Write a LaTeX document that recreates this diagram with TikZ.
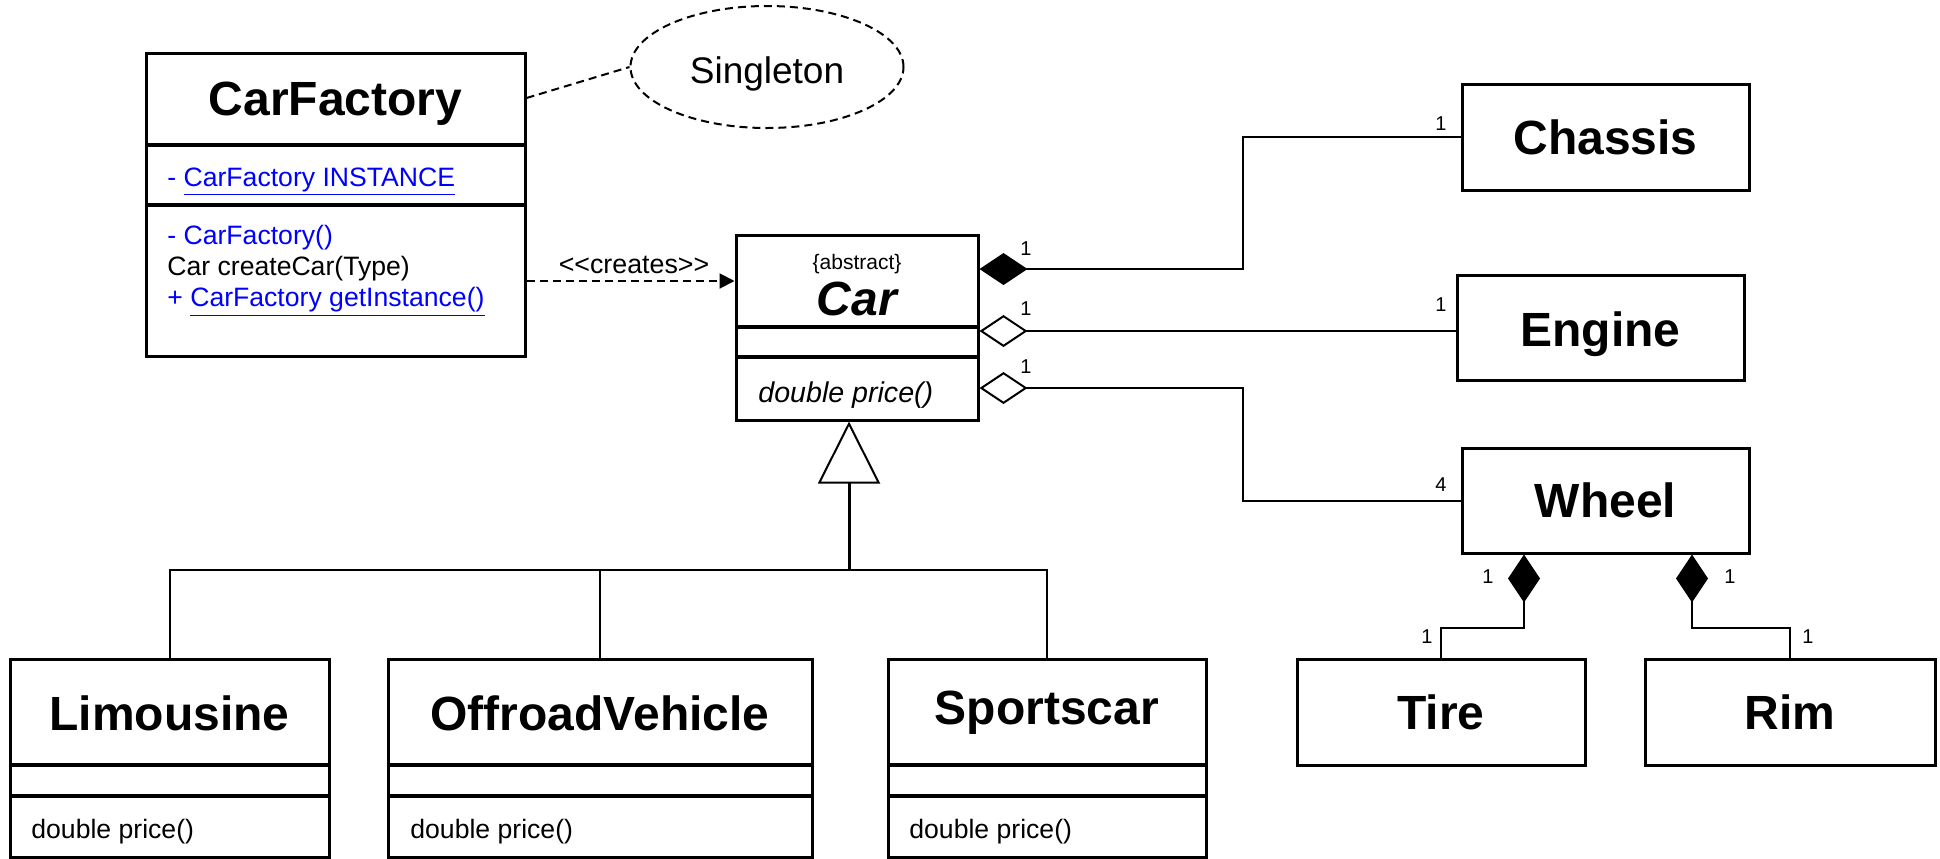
\documentclass[tikz,border=0pt]{standalone}
\usepackage{fontspec}
\setmainfont{Liberation Sans}
\usetikzlibrary{arrows.meta,fit,shapes.geometric}
\definecolor{ublue}{RGB}{0,0,255}
\tikzset{
  cls/.style={draw, line width=1.5pt, inner sep=0pt},
  sepline/.style={line width=2pt},
  ttl/.style={font=\fontsize{24pt}{28pt}\selectfont\bfseries, inner sep=0pt},
  mem/.style={font=\fontsize{13.3pt}{15pt}\selectfont, inner sep=0pt, anchor=west},
  mult/.style={font=\fontsize{10pt}{12pt}\selectfont, inner sep=0pt},
  conn/.style={line width=1pt},
  dsh/.style={conn, dash pattern=on 4pt off 2.5pt},
  comp/.style={conn, {Diamond[length=24pt,width=16pt]}-},
  aggr/.style={conn, {Diamond[open,length=24pt,width=16pt]}-},
}
\begin{document}
\begin{tikzpicture}[x=0.5pt,y=-0.5pt]
\useasboundingbox (0,0) rectangle (1940,858);
% helper coordinates
\coordinate (y98) at (0,98);
\coordinate (y269) at (0,269);
\coordinate (y281) at (0,281);
\coordinate (y331) at (0,331);
\coordinate (y388) at (0,388);
\coordinate (y628) at (0,628);
\coordinate (x1243) at (1243,0);
\coordinate (wx1) at (1524,0);
\coordinate (wx2) at (1692,0);
\coordinate (bus) at (849,570);

% CarFactory
\node[cls, fit={(146,53) (525,356)}] (cf) {};
\draw[sepline] (146,145) -- (525,145);
\draw[sepline] (146,205) -- (525,205);
\node[ttl] (cft) at (335.5,104) {CarFactory};
\node[mem, text=ublue] (cfa) at (167,182) {- \underline{CarFactory INSTANCE}};
\node[mem, text=ublue] (cfm1) at (167,238) {- CarFactory()};
\node[mem] (cfm2) at (167,269) {Car createCar(Type)};
\node[mem, text=ublue] (cfm3) at (167,302) {+ \underline{CarFactory getInstance()}};

% Singleton note
\node[draw, dash pattern=on 4pt off 2.5pt, line width=1pt, ellipse, minimum width=136.5pt, minimum height=61pt, inner sep=0pt] (sg) at (767,67) {};
\node[font=\fontsize{18.5pt}{22pt}\selectfont, inner sep=0pt] (sgt) at (767,74) {Singleton};
\draw[dsh] (cf.east |- y98) -- (sg.west);

% Car
\node[cls, fit={(736,235) (978,420)}] (car) {};
\draw[sepline] (736,327) -- (978,327);
\draw[sepline] (736,357) -- (978,357);
\node[font=\fontsize{10.5pt}{12pt}\selectfont, inner sep=0pt] (abs) at (857,264) {\{abstract\}};
\node[ttl, font=\fontsize{24pt}{28pt}\selectfont\bfseries\itshape] (cart) at (857,299) {Car};
\node[mem, font=\fontsize{14.3pt}{16pt}\selectfont\itshape] (carm) at (758,395) {double price()};

% creates
\draw[dsh, -{Triangle[length=7.5pt,width=7.5pt]}] (cf.east |- y281) -- (car.west |- y281);
\node[font=\fontsize{13.4pt}{15pt}\selectfont, inner sep=0pt] (crl) at (634,265) {<\kern0pt<creates>\kern0pt>};

% Subclasses
\node[cls, fit={(10,659) (329,857)}] (lim) {};
\draw[sepline] (10,765) -- (329,765);
\draw[sepline] (10,796) -- (329,796);
\node[ttl] (limt) at (169.5,713) {Limousine};
\node[mem] (limm) at (31,832) {double price()};

\node[cls, fit={(388,659) (812,857)}] (off) {};
\draw[sepline] (388,765) -- (812,765);
\draw[sepline] (388,796) -- (812,796);
\node[ttl] (offt) at (600,713) {OffroadVehicle};
\node[mem] (offm) at (410,832) {double price()};

\node[cls, fit={(888,659) (1206,857)}] (sp) {};
\draw[sepline] (888,765) -- (1206,765);
\draw[sepline] (888,796) -- (1206,796);
\node[ttl] (spt) at (1047,713) {Sportscar};
\node[mem] (spm) at (909,832) {double price()};

% Generalization
\draw[line width=1.5pt, -{Triangle[open, length=31pt, width=31pt, line width=1pt]}] (bus) -- (bus |- car.south);
\draw[conn] (lim.north) -- (lim.north |- bus) -- (sp.north |- bus) -- (sp.north);
\draw[conn] (off.north) -- (off.north |- bus);

% Right side classes
\node[cls, fit={(1462,84) (1749,190)}] (ch) {};
\node[ttl] (cht) at (ch.center) {Chassis};
\node[cls, fit={(1457,275) (1744,380)}] (eng) {};
\node[ttl, yshift=-3.5pt] (engt) at (eng.center) {Engine};
\node[cls, fit={(1462,448) (1749,553)}] (wh) {};
\node[ttl] (wht) at (wh.center) {Wheel};
\node[cls, fit={(1297,659) (1585,765)}] (tire) {};
\node[ttl] (tiret) at (tire.center) {Tire};
\node[cls, fit={(1645,659) (1935,765)}] (rim) {};
\node[ttl] (rimt) at (rim.center) {Rim};

% Associations
\draw[comp] (car.east |- y269) -| (x1243 |- ch.west) -- (ch.west);
\draw[aggr] (car.east |- y331) -- (eng.west |- y331);
\draw[aggr] (car.east |- y388) -| (x1243 |- wh.west) -- (wh.west);
\draw[comp] (wx1 |- wh.south) |- (tire.north |- y628) -- (tire.north);
\draw[comp] (wx2 |- wh.south) |- (rim.north |- y628) -- (rim.north);

% Multiplicities
\node[mult] (n1) at (1026,249) {1};
\node[mult] (n2) at (1026,309) {1};
\node[mult] (n3) at (1026,367) {1};
\node[mult] (n4) at (1441,124) {1};
\node[mult] (n5) at (1441,305) {1};
\node[mult] (n6) at (1441,485) {4};
\node[mult] (n7) at (1488,577) {1};
\node[mult] (n8) at (1730,577) {1};
\node[mult] (n9) at (1427,637) {1};
\node[mult] (n10) at (1808,637) {1};
\end{tikzpicture}
\end{document}
